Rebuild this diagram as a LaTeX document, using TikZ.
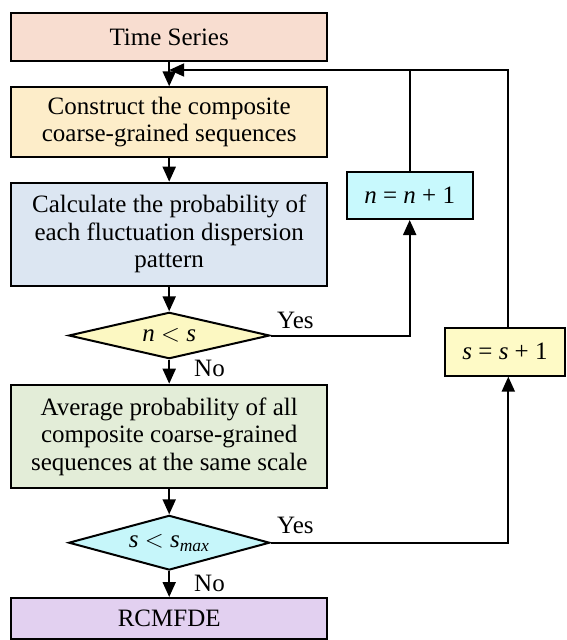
\documentclass[tikz,border=0pt]{standalone}
\usepackage{fontspec}
\setmainfont{Liberation Serif}
\usetikzlibrary{arrows.meta,shapes.geometric}
\definecolor{cTime}{HTML}{F8DDD0}
\definecolor{cCons}{HTML}{FDEDC9}
\definecolor{cCalc}{HTML}{DCE6F2}
\definecolor{cN}{HTML}{C8F9FD}
\definecolor{cD1}{HTML}{FCF8C2}
\definecolor{cS}{HTML}{FEFAC6}
\definecolor{cAvg}{HTML}{E3EDD8}
\definecolor{cD2}{HTML}{C6F6FA}
\definecolor{cRC}{HTML}{E2D0F0}
\tikzset{
  box/.style={draw=black, line width=2pt, rectangle, inner sep=0pt, align=center,
    font=\fontsize{25}{27.5}\selectfont},
  dec/.style={draw=black, line width=2pt, diamond, inner sep=0pt},
  dectext/.style={inner sep=0pt, font=\fontsize{25}{27.5}\selectfont},
  conn/.style={line width=2pt, -{Triangle[length=15pt,width=13pt]}},
  plain/.style={line width=2pt},
  lab/.style={font=\fontsize{25}{27}\selectfont}
}
\begin{document}
\begin{tikzpicture}[x=1pt,y={(0pt,-1pt)}]
\useasboundingbox (0,0) rectangle (567,640);
\node[box, fill=cTime, minimum width=316pt, minimum height=47.7pt] (time) at (169.2,37.2) {Time Series};
\node[box, fill=cCons, minimum width=316pt, minimum height=69.4pt] (cons) at (169.2,122) {Construct the composite\\coarse-grained sequences};
\node[box, fill=cCalc, minimum width=316pt, minimum height=103pt] (calc) at (169.2,234.2) {Calculate the probability of\\each fluctuation dispersion\\pattern};
\node[dec, fill=cD1, minimum width=201pt, minimum height=46.4pt] (d1) at (169.2,335.5) {};
\node[dectext] (d1t) at (d1.center) {\textit{n} $<$ \textit{s}};
\node[box, fill=cAvg, minimum width=316pt, minimum height=103.6pt] (avg) at (169.2,436.5) {Average probability of all\\composite coarse-grained\\sequences at the same scale};
\node[dec, fill=cD2, minimum width=201pt, minimum height=54.7pt] (d2) at (169.2,542.7) {};
\node[dectext] (d2t) at (d2.center) {\textit{s} $<$ \textit{s}\textsubscript{\textit{max}}};
\node[box, fill=cRC, minimum width=316pt, minimum height=41pt] (rc) at (169.2,618.5) {RCMFDE};
\node[box, fill=cN, minimum width=126pt, minimum height=47pt] (nb) at (409.7,195.5) {\textit{n} = \textit{n} + 1};
\node[box, fill=cS, minimum width=120pt, minimum height=47.7pt] (sb) at (505,351.8) {\textit{s} = \textit{s} + 1};
\coordinate (fb) at (169.2,70);
\coordinate (fbn) at (409.7,70);
\coordinate (fbs) at (508.3,70);

\draw[conn] (time.south) -- (cons.north);
\draw[conn] (cons.south) -- (calc.north);
\draw[conn] (calc.south) -- (d1.north);
\draw[conn] (d1.south) -- (avg.north);
\draw[conn] (avg.south) -- (d2.north);
\draw[conn] (d2.south) -- (rc.north);
\draw[conn] (d1.east) -| (nb.south);
\draw[conn] (d2.east) -| (sb.south -| fbs);
\draw[plain] (nb.north) -- (fbn);
\draw[conn] (sb.north -| fbs) -- (fbs) -- (fb);

\node[lab, anchor=west, inner sep=0pt] (y1) at (277,320) {Yes};
\node[lab, anchor=west, inner sep=0pt] (n1) at (194,368) {No};
\node[lab, anchor=west, inner sep=0pt] (y2) at (277,525) {Yes};
\node[lab, anchor=west, inner sep=0pt] (n2) at (194,583) {No};
\end{tikzpicture}
\end{document}
